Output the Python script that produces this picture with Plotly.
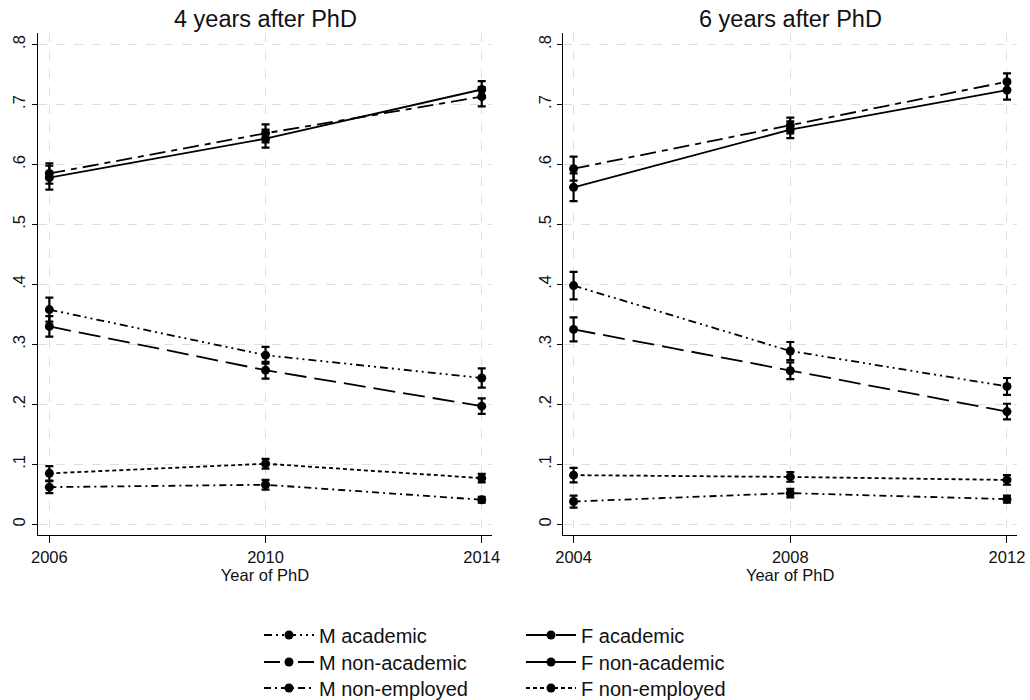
import plotly.graph_objects as go

# ---- data ----
years_4 = [2006, 2010, 2014]
years_6 = [2004, 2008, 2012]

series_names = ["M academic", "M non-academic", "M non-employed",
                "F academic", "F non-academic", "F non-employed"]

# 4 years after PhD
m_acad_4 = [0.358, 0.282, 0.244]
m_acad_4_err = [0.020, 0.014, 0.016]
m_nonacad_4 = [0.585, 0.652, 0.713]
m_nonacad_4_err = [0.017, 0.015, 0.016]
m_nonemp_4 = [0.062, 0.066, 0.041]
m_nonemp_4_err = [0.010, 0.008, 0.005]
f_acad_4 = [0.330, 0.257, 0.197]
f_acad_4_err = [0.017, 0.014, 0.013]
f_nonacad_4 = [0.578, 0.643, 0.725]
f_nonacad_4_err = [0.020, 0.015, 0.014]
f_nonemp_4 = [0.085, 0.101, 0.077]
f_nonemp_4_err = [0.012, 0.008, 0.007]

# 6 years after PhD
m_acad_6 = [0.398, 0.289, 0.230]
m_acad_6_err = [0.023, 0.015, 0.014]
m_nonacad_6 = [0.593, 0.665, 0.738]
m_nonacad_6_err = [0.020, 0.013, 0.014]
m_nonemp_6 = [0.038, 0.052, 0.042]
m_nonemp_6_err = [0.010, 0.007, 0.006]
f_acad_6 = [0.325, 0.256, 0.188]
f_acad_6_err = [0.020, 0.014, 0.013]
f_nonacad_6 = [0.562, 0.658, 0.724]
f_nonacad_6_err = [0.023, 0.014, 0.016]
f_nonemp_6 = [0.082, 0.079, 0.074]
f_nonemp_6_err = [0.012, 0.008, 0.008]

y_ticks = [0, 0.1, 0.2, 0.3, 0.4, 0.5, 0.6, 0.7, 0.8]
y_ticktext = ["0", ".1", ".2", ".3", ".4", ".5", ".6", ".7", ".8"]
panel_titles = ["4 years after PhD", "6 years after PhD"]
x_title = "Year of PhD"

# ---- styles ----
dashes = {
    "M academic": "8px,4px,2px,4px,2px,4px",
    "M non-academic": "16px,6px,6px,6px",
    "M non-employed": "7px,4px,2px,4px",
    "F academic": "22px,8px",
    "F non-academic": "solid",
    "F non-employed": "4px,3px",
}

panel4 = {
    "M academic": (m_acad_4, m_acad_4_err),
    "M non-academic": (m_nonacad_4, m_nonacad_4_err),
    "M non-employed": (m_nonemp_4, m_nonemp_4_err),
    "F academic": (f_acad_4, f_acad_4_err),
    "F non-academic": (f_nonacad_4, f_nonacad_4_err),
    "F non-employed": (f_nonemp_4, f_nonemp_4_err),
}
panel6 = {
    "M academic": (m_acad_6, m_acad_6_err),
    "M non-academic": (m_nonacad_6, m_nonacad_6_err),
    "M non-employed": (m_nonemp_6, m_nonemp_6_err),
    "F academic": (f_acad_6, f_acad_6_err),
    "F non-academic": (f_nonacad_6, f_nonacad_6_err),
    "F non-employed": (f_nonemp_6, f_nonemp_6_err),
}

W, H = 1030, 700
ml, mr, mt, mb = 38, 13, 33, 165
pw = W - ml - mr
ph = H - mt - mb

def px_x(p):
    return (p - ml) / pw

def px_y(p):
    return (H - mb - p) / ph

FONT = "Arial, Liberation Sans, sans-serif"

# one legend box per entry: (left px, row centre px)
legend_pos = {
    "M academic": (259, 635), "M non-academic": (259, 662), "M non-employed": (259, 688),
    "F academic": (521, 635), "F non-academic": (521, 662), "F non-employed": (521, 688),
}
legend_ids = {name: ("legend" if i == 0 else f"legend{i + 1}")
              for i, name in enumerate(series_names)}

fig = go.Figure()

for pi, (years, data, xa, ya) in enumerate([(years_4, panel4, "x", "y"),
                                            (years_6, panel6, "x2", "y2")]):
    for name in series_names:
        vals, errs = data[name]
        fig.add_trace(go.Scatter(
            x=years, y=vals, mode="lines+markers", name=name,
            xaxis=xa, yaxis=ya,
            line=dict(color="black", width=1.8, dash=dashes[name]),
            marker=dict(color="black", size=9),
            error_y=dict(type="data", array=errs, visible=True,
                         color="black", thickness=2.2, width=4),
            showlegend=(pi == 0),
            legend=legend_ids[name],
        ))

axis_common = dict(
    showline=True, linecolor="black", linewidth=1.3, mirror=False,
    ticks="outside", tickcolor="black", tickwidth=1.2,
    showgrid=True, gridcolor="#dedede", griddash="dash", gridwidth=1,
    zeroline=False, automargin=False,
    tickfont=dict(family=FONT, size=16.5, color="#111"),
)

legend_layout = {}
for name in series_names:
    lx, ly = legend_pos[name]
    legend_layout[legend_ids[name]] = dict(
        x=px_x(lx), y=px_y(ly), xanchor="left", yanchor="middle",
        orientation="v", itemwidth=50,
        font=dict(family=FONT, size=20, color="#111"),
        bgcolor="rgba(0,0,0,0)", borderwidth=0)

fig.update_layout(
    width=W, height=H,
    margin=dict(l=ml, r=mr, t=mt, b=mb, autoexpand=False),
    paper_bgcolor="white", plot_bgcolor="white",
    font=dict(family=FONT, color="#111"),
    xaxis=dict(domain=[0, px_x(492)], range=[2005.79, 2014.19],
               tickvals=years_4, ticklen=7,
               title=dict(text=x_title, font=dict(size=16.5), standoff=4),
               **axis_common),
    xaxis2=dict(domain=[px_x(563.3), 1], range=[2003.81, 2012.185],
                tickvals=years_6, ticklen=7,
                title=dict(text=x_title, font=dict(size=16.5), standoff=4),
                **axis_common),
    yaxis=dict(range=[-0.0178, 0.8192], tickvals=y_ticks, ticktext=y_ticktext,
               tickangle=-90, ticklen=5, anchor="x", **axis_common),
    yaxis2=dict(range=[-0.0178, 0.8192], tickvals=y_ticks, ticktext=y_ticktext,
                tickangle=-90, ticklen=5, anchor="x2", **axis_common),
    annotations=[
        dict(text=panel_titles[0], xref="paper", yref="paper",
             x=px_x(265), y=px_y(19), xanchor="center", yanchor="middle",
             showarrow=False, font=dict(family=FONT, size=23.5, color="#111")),
        dict(text=panel_titles[1], xref="paper", yref="paper",
             x=px_x(790), y=px_y(19), xanchor="center", yanchor="middle",
             showarrow=False, font=dict(family=FONT, size=23.5, color="#111")),
    ],
    **legend_layout,
)

fig.write_html("out.html")
